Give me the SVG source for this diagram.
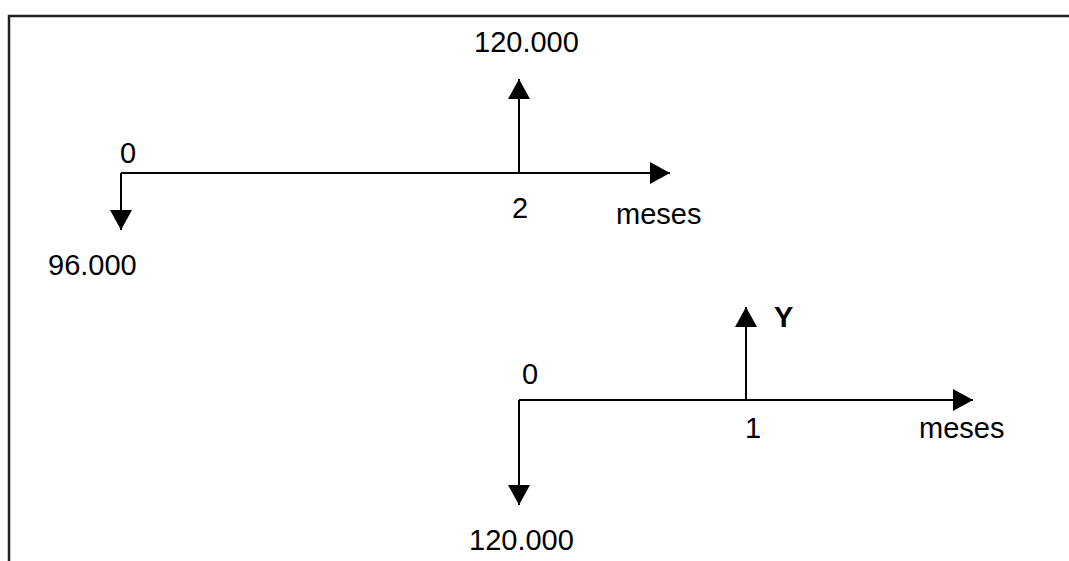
<svg xmlns="http://www.w3.org/2000/svg" width="1069" height="561" viewBox="0 0 1069 561">
<defs>
<marker id="ah" markerUnits="userSpaceOnUse" markerWidth="22" markerHeight="22" viewBox="0 0 20 22" refX="20" refY="11" orient="auto">
<path d="M0,0 L20,11 L0,22 Z" fill="#000"/>
</marker>
</defs>
<style>
text{font-family:"Liberation Sans",Arial,sans-serif;font-size:29px;fill:#000}
.ax{stroke:#000;stroke-width:2;fill:none}
.b{font-weight:bold}
</style>
<rect width="1069" height="561" fill="#fff"/>
<g id="frame">
<path d="M9,561 L9,16 L1069,16" fill="none" stroke="#222" stroke-width="2.5"/>
</g>
<g id="connectors">
<line class="ax" x1="121" y1="173" x2="670" y2="173" marker-end="url(#ah)"/>
<line class="ax" x1="121" y1="173" x2="121" y2="230" marker-end="url(#ah)"/>
<line class="ax" x1="519" y1="173" x2="519" y2="79" marker-end="url(#ah)"/>
<line class="ax" x1="519" y1="400" x2="973" y2="400" marker-end="url(#ah)"/>
<line class="ax" x1="519" y1="400" x2="519" y2="505" marker-end="url(#ah)"/>
<line class="ax" x1="746" y1="400" x2="746" y2="307" marker-end="url(#ah)"/>
</g>
<g id="top-diagram">
<text x="120" y="163">0</text>
<text x="474" y="52">120.000</text>
<text x="512" y="218">2</text>
<text x="616" y="224">meses</text>
<text x="48" y="275">96.000</text>
</g>
<g id="bottom-diagram">
<text x="522" y="384">0</text>
<text x="745" y="438">1</text>
<text class="b" x="774" y="327">Y</text>
<text x="919" y="438">meses</text>
<text x="469" y="550">120.000</text>
</g>
</svg>
